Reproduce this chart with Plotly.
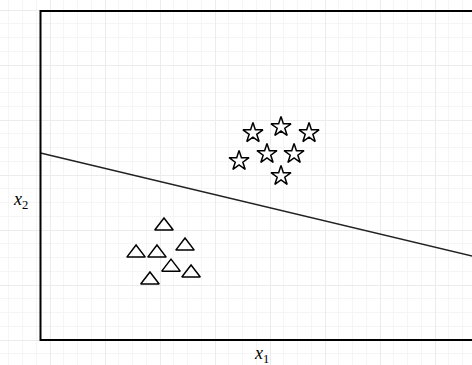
import plotly.graph_objects as go

# data units: one grid square = 1
star_x = [15.45, 17.49, 19.53, 14.44, 16.47, 18.44, 17.49]
star_y = [15.05, 15.49, 15.05, 13.02, 13.53, 13.53, 11.93]

tri_x = [8.98, 6.95, 8.47, 10.51, 9.49, 10.95, 7.96]
tri_y = [8.29, 6.32, 6.32, 6.83, 5.30, 4.87, 4.36]

line_x = [0, 32]
line_y = [13.6, 5.96]

x_range = [-2.945, 31.38]
y_range = [-1.818, 24.727]
box_top = 23.93

fig = go.Figure()

fig.add_trace(go.Scatter(
    x=line_x, y=line_y, mode='lines',
    line=dict(color='#222222', width=1.6),
    hoverinfo='skip'
))
fig.add_trace(go.Scatter(
    x=star_x, y=star_y, mode='markers',
    marker=dict(symbol='star-open', size=15, color='black', line=dict(width=1.5))
))
fig.add_trace(go.Scatter(
    x=tri_x, y=tri_y, mode='markers',
    marker=dict(symbol='triangle-up-open', size=16, color='black', line=dict(width=1.5))
))

# frame: left, top, bottom (no right side)
fig.add_shape(
    type='path',
    path=f'M 32,{box_top} L 0,{box_top} L 0,0 L 32,0',
    line=dict(color='black', width=2)
)

fig.add_annotation(x=-1.49, y=10.18, text='<i>x</i><sub>2</sub>', showarrow=False,
                   font=dict(family='Liberation Serif', size=18, color='black'))
fig.add_annotation(x=16.1, y=-1.09, text='<i>x</i><sub>1</sub>', showarrow=False,
                   font=dict(family='Liberation Serif', size=18, color='black'))

axis_common = dict(
    showticklabels=False, ticks='', zeroline=False, showline=False,
    showgrid=True, gridcolor='#ececec', gridwidth=1,
)
fig.update_xaxes(range=x_range, tick0=0.691, dtick=4,
                 minor=dict(tick0=0.691, dtick=1, showgrid=True, gridcolor='#f5f5f5', gridwidth=1),
                 **axis_common)
fig.update_yaxes(range=y_range, tick0=0, dtick=4,
                 minor=dict(tick0=0, dtick=1, showgrid=True, gridcolor='#f5f5f5', gridwidth=1),
                 **axis_common)

fig.update_layout(
    width=472, height=365,
    margin=dict(l=0, r=0, t=0, b=0),
    plot_bgcolor='white', paper_bgcolor='white',
    showlegend=False,
)

# page body has a default 8px margin; drop it so the figure fills the window
fig.write_html("out.html", config={'displayModeBar': False},
               post_script="document.body.style.margin='0';")
